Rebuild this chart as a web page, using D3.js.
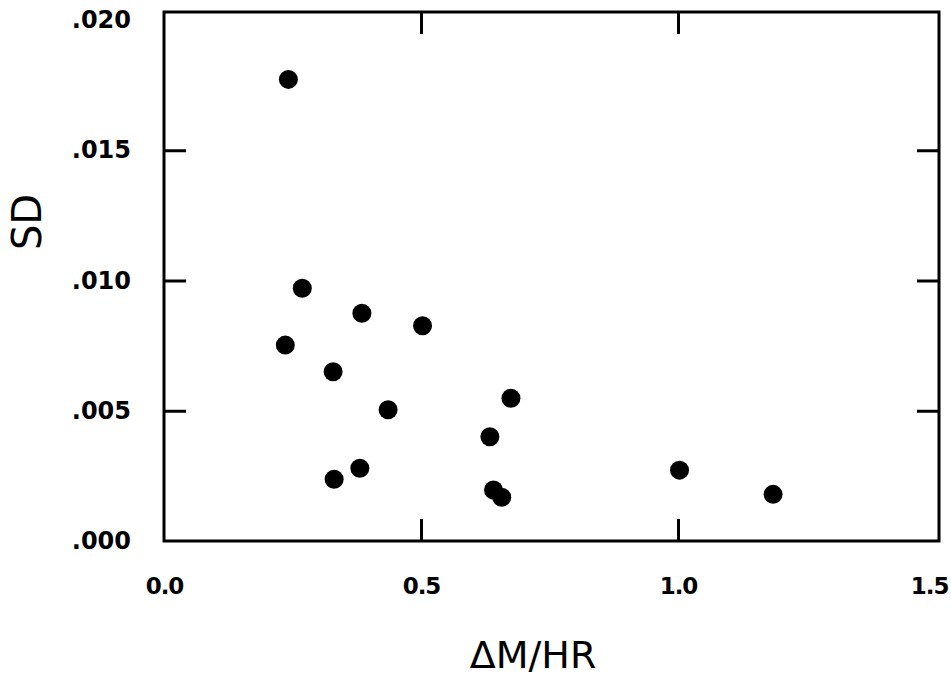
<!DOCTYPE html>
<html>
<head>
<meta charset="utf-8">
<script src="https://cdn.jsdelivr.net/npm/d3@7"></script>
<style>
  html, body { margin: 0; padding: 0; background: #fff; }
  svg { display: block; }
</style>
</head>
<body>
<svg id="chart" width="951" height="679"></svg>
<script>
// Data
const xValues = [0.242, 0.269, 0.385, 0.503, 0.236, 0.329, 0.436, 0.675, 0.634, 0.331, 0.381, 0.641, 0.657, 1.003, 1.185];
const yValues = [0.01772, 0.00970, 0.00874, 0.00826, 0.00752, 0.00650, 0.00504, 0.00548, 0.00400, 0.00237, 0.00279, 0.00196, 0.00168, 0.00272, 0.00179];
const xTickLabels = [0.0, 0.5, 1.0, 1.5];
const yTickLabels = [0.000, 0.005, 0.010, 0.015, 0.020];
const xInnerTicks = [0.5, 1.0];
const yInnerTicks = [0.005, 0.010, 0.015];
const xTitle = "ΔM/HR";
const yTitle = "SD";

const points = xValues.map((x, i) => ({ x, y: yValues[i] }));

const W = 951;
const svg = d3.select("#chart");
const x = d3.scaleLinear().domain([0, 1.5]).range([164, 935]);
const y = d3.scaleLinear().domain([0, 0.020]).range([541, 20]);

const frameLeft = 164, frameRight = 939, frameTop = 12, frameBottom = 541;
const font = "'DejaVu Sans', sans-serif";

// Frame
svg.append("rect")
  .attr("x", frameLeft).attr("y", frameTop)
  .attr("width", frameRight - frameLeft).attr("height", frameBottom - frameTop)
  .attr("fill", "none").attr("stroke", "#000").attr("stroke-width", 3);

function styleTicks(g) {
  g.select(".domain").remove();
  g.selectAll(".tick line").attr("stroke", "#000").attr("stroke-width", 3);
}

// Inner ticks
svg.append("g").attr("transform", `translate(0,${frameBottom})`)
  .call(d3.axisBottom(x).tickValues(xInnerTicks).tickSize(-22).tickFormat(""))
  .call(styleTicks);
svg.append("g").attr("transform", `translate(0,${frameTop})`)
  .call(d3.axisTop(x).tickValues(xInnerTicks).tickSize(-22).tickFormat(""))
  .call(styleTicks);
svg.append("g").attr("transform", `translate(${frameLeft},0)`)
  .call(d3.axisLeft(y).tickValues(yInnerTicks).tickSize(-22).tickFormat(""))
  .call(styleTicks);
svg.append("g").attr("transform", `translate(${frameRight},0)`)
  .call(d3.axisRight(y).tickValues(yInnerTicks).tickSize(-22).tickFormat(""))
  .call(styleTicks);

// Tick labels
const xLab = svg.append("g").attr("transform", `translate(0,${frameBottom})`)
  .call(d3.axisBottom(x).tickValues(xTickLabels).tickSize(0).tickPadding(37).tickFormat(d3.format(".1f")));
xLab.select(".domain").remove();
xLab.selectAll("text")
  .style("font-family", font).style("font-size", "23px").style("font-weight", "bold")
  .style("letter-spacing", "-1px").attr("fill", "#000");
// keep the last label inside the page
xLab.selectAll(".tick").each(function(d) {
  const t = d3.select(this).select("text");
  const bb = t.node().getBBox();
  const right = x(d) + bb.x + bb.width;
  if (right > W - 3) t.attr("dx", (W - 3) - right);
});

const yFmt = d => d3.format(".3f")(d).replace(/^0/, "");
const yLab = svg.append("g").attr("transform", `translate(${frameLeft},0)`)
  .call(d3.axisLeft(y).tickValues(yTickLabels).tickSize(0).tickPadding(33).tickFormat(yFmt));
yLab.select(".domain").remove();
yLab.selectAll("text")
  .style("font-family", font).style("font-size", "24px").style("font-weight", "bold")
  .attr("fill", "#000");

// Axis titles
svg.append("text")
  .attr("x", 533).attr("y", 668)
  .attr("text-anchor", "middle")
  .style("font-family", font).style("font-size", "38px")
  .attr("fill", "#000")
  .text(xTitle);

svg.append("text")
  .attr("transform", "translate(41,222) rotate(-90)")
  .attr("text-anchor", "middle")
  .style("font-family", font).style("font-size", "40px")
  .attr("fill", "#000")
  .text(yTitle);

// Points
svg.append("g").selectAll("circle")
  .data(points)
  .join("circle")
  .attr("cx", d => x(d.x))
  .attr("cy", d => y(d.y))
  .attr("r", 9.5)
  .attr("fill", "#000");
</script>
</body>
</html>
